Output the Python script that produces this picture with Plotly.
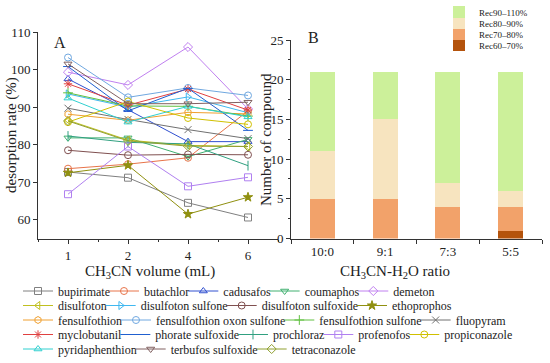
import plotly.graph_objects as go

# ---------------- data ----------------
volumes = ["1", "2", "4", "6"]

compounds = [
    "bupirimate", "butachlor", "cadusafos", "coumaphos", "demeton",
    "disulfoton", "disulfoton sulfone", "disulfoton sulfoxide", "ethoprophos",
    "fensulfothion", "fensulfothion oxon sulfone", "fensulfothion sulfone", "fluopyram",
    "myclobutanil", "phorate sulfoxide", "prochloraz", "profenofos", "propiconazole",
    "pyridaphenthion", "terbufos sulfoxide", "tetraconazole",
]

bupirimate = [72.7, 71.2, 64.5, 60.6]
butachlor = [73.6, 74.8, 76.5, 89.0]
cadusafos = [97.5, 89.3, 80.8, 80.8]
coumaphos = [81.8, 81.8, 76.8, 81.4]
demeton = [99.3, 95.9, 106.0, 89.5]
disulfoton = [86.5, 81.2, 79.8, 79.5]
disulfoton_sulfone = [93.5, 90.0, 92.7, 88.5]
disulfoton_sulfoxide = [78.5, 77.2, 77.4, 77.3]
ethoprophos = [72.5, 74.5, 61.5, 66.0]
fensulfothion = [88.1, 86.5, 88.6, 88.2]
fensulfothion_oxon_sulfone = [103.2, 92.6, 95.1, 93.1]
fensulfothion_sulfone = [93.8, 90.3, 90.2, 87.6]
fluopyram = [89.7, 86.7, 84.0, 81.6]
myclobutanil = [96.2, 90.5, 94.8, 89.2]
phorate_sulfoxide = [100.8, 89.0, 95.0, 83.8]
prochloraz = [82.3, 80.6, 80.2, 74.4]
profenofos = [66.8, 79.5, 68.9, 71.3]
propiconazole = [86.0, 91.5, 87.1, 85.4]
pyridaphenthion = [92.4, 86.0, 90.2, 87.4]
terbufos_sulfoxide = [101.5, 90.9, 90.9, 91.3]
tetraconazole = [86.3, 81.0, 79.6, 79.5]

series_values = [
    bupirimate, butachlor, cadusafos, coumaphos, demeton,
    disulfoton, disulfoton_sulfone, disulfoton_sulfoxide, ethoprophos,
    fensulfothion, fensulfothion_oxon_sulfone, fensulfothion_sulfone, fluopyram,
    myclobutanil, phorate_sulfoxide, prochloraz, profenofos, propiconazole,
    pyridaphenthion, terbufos_sulfoxide, tetraconazole,
]

ratios = ["10:0", "9:1", "7:3", "5:5"]
rec_labels = ["Rec60–70%", "Rec70–80%", "Rec80–90%", "Rec90–110%"]
rec60_70 = [0, 0, 0, 1]
rec70_80 = [5, 5, 4, 3]
rec80_90 = [6, 10, 3, 2]
rec90_110 = [10, 6, 14, 15]
rec_values = [rec60_70, rec70_80, rec80_90, rec90_110]

# ---------------- styles ----------------
colors = [
    "#808080", "#e8744a", "#3050d0", "#40b070", "#c080f0",
    "#c0c020", "#40b8f0", "#805050", "#909010",
    "#f0a030", "#70a8e0", "#60c040", "#707070",
    "#e04040", "#2060d0", "#30a080", "#b080f0", "#d0c000",
    "#30d0d0", "#806060", "#90a030",
]
symbols = [
    "square-open", "circle-open", "triangle-up-open", "triangle-down-open", "diamond-open",
    "triangle-left-open", "triangle-right-open", "circle-open", "star",
    "hexagon-open", "circle-open", "cross-thin-open", "x-thin-open",
    "asterisk-open", "line-ew-open", "line-ns-open", "square-open", "circle-open",
    "triangle-up-open", "triangle-down-open", "diamond-open",
]
rows = [0] * 5 + [1] * 4 + [2] * 4 + [3] * 5 + [4] * 3
row_centers_px = [291, 305.5, 320, 334.5, 349]
rec_colors = ["#b4530c", "#f2a26a", "#f7e4bf", "#ccf09a"]
rec_legend_y_px = [45, 34, 23, 12]

FONT = "Liberation Serif, Times New Roman, serif"
W, H = 550, 363
LEG_SIZE = 12

# approximate Times/Liberation Serif advance widths (em) for legend packing
CW = dict(a=.444, b=.5, c=.444, d=.5, e=.444, f=.333, g=.5, h=.5, i=.278, j=.278, k=.5,
          l=.278, m=.778, n=.5, o=.5, p=.5, q=.5, r=.333, s=.389, t=.278, u=.5, v=.5,
          w=.722, x=.5, y=.5, z=.444)
CW[" "] = .25


def text_w(s, size):
    return sum(CW.get(c, .5) for c in s) * size


# legend entry left positions, packed row by row (entries sit close like the reference)
leg_x = []
cursor = {}
for i, name in enumerate(compounds):
    r = rows[i]
    start = cursor.get(r, 18)
    leg_x.append(start)
    cursor[r] = start + 40 + text_w(name, LEG_SIZE) - 6


def leg_key(n):
    return "legend" if n == 0 else f"legend{n + 1}"


fig = go.Figure()

xpos = list(range(len(volumes)))
for i, name in enumerate(compounds):
    fig.add_trace(go.Scatter(
        x=xpos, y=series_values[i], name=name, mode="lines+markers",
        line=dict(color=colors[i], width=1),
        marker=dict(symbol=symbols[i], size=7, color=colors[i],
                    line=dict(color=colors[i], width=1)),
        legend=leg_key(i),
        xaxis="x", yaxis="y",
    ))

nC = len(compounds)
for j, lab in enumerate(rec_labels):
    fig.add_trace(go.Bar(
        x=ratios, y=rec_values[j], name=lab, marker=dict(color=rec_colors[j], line=dict(width=0)),
        width=0.4, xaxis="x2", yaxis="y2", legend=leg_key(nC + j),
    ))

axis_common = dict(
    showline=True, linecolor="#333", linewidth=1, ticks="outside", ticklen=4,
    tickcolor="#333", showgrid=False, zeroline=False,
    tickfont=dict(family=FONT, size=13, color="#222"),
)

y_bot = 1 - 238.5 / H

layout = dict(
    width=W, height=H, margin=dict(l=0, r=0, t=0, b=0, autoexpand=False),
    paper_bgcolor="white", plot_bgcolor="white",
    barmode="stack",
    font=dict(family=FONT, color="#222"),
    xaxis=dict(domain=[38 / W, 278 / W], range=[-0.5, 3.5], tickvals=xpos, ticktext=volumes,
               minor=dict(ticks="outside", ticklen=2, tickcolor="#333", dtick=0.5, tick0=0.5),
               anchor="y", ticklabelstandoff=1, **axis_common),
    yaxis=dict(domain=[y_bot, 1 - 32 / H], range=[55, 110], tick0=60, dtick=10,
               anchor="x", **axis_common),
    xaxis2=dict(domain=[291 / W, 542 / W], range=[-0.5, 3.5], type="category",
                tickson="boundaries", anchor="y2", ticklabelstandoff=1, **axis_common),
    yaxis2=dict(domain=[y_bot, 1 - 40 / H], range=[0, 25], tick0=0, dtick=5,
                minor=dict(ticks="outside", ticklen=2, tickcolor="#333", dtick=2.5),
                anchor="x2", **axis_common),
    showlegend=True,
)

for i in range(nC):
    layout[leg_key(i)] = dict(
        orientation="h", xref="paper", yref="paper",
        x=leg_x[i] / W, xanchor="left", y=1 - row_centers_px[rows[i]] / H, yanchor="middle",
        bgcolor="rgba(0,0,0,0)", font=dict(family=FONT, size=LEG_SIZE, color="#222"),
        itemwidth=30,
    )
for j in range(len(rec_labels)):
    layout[leg_key(nC + j)] = dict(
        orientation="h", xref="paper", yref="paper",
        x=439 / W, xanchor="left", y=1 - rec_legend_y_px[j] / H, yanchor="middle",
        bgcolor="rgba(0,0,0,0)", font=dict(family=FONT, size=9, color="#222"),
        itemwidth=30,
    )

fig.update_layout(**layout)

ann = [
    dict(text="A", x=60 / W, y=1 - 43 / H, font=dict(size=16)),
    dict(text="B", x=313 / W, y=1 - 38 / H, font=dict(size=16)),
    dict(text="CH<sub>3</sub>CN volume (mL)", x=150 / W, y=1 - 272 / H, font=dict(size=15)),
    dict(text="CH<sub>3</sub>CN-H<sub>2</sub>O ratio", x=395 / W, y=1 - 272 / H, font=dict(size=15)),
    dict(text="desorption rate (%)", x=11 / W, y=1 - 135 / H, font=dict(size=15), textangle=-90),
    dict(text="Number of compound", x=266 / W, y=1 - 140 / H, font=dict(size=15), textangle=-90),
]
for a in ann:
    a.update(xref="paper", yref="paper", showarrow=False, xanchor="center", yanchor="middle")
    a["font"].update(family=FONT, color="#222")
fig.update_layout(annotations=ann)

fig.write_html("out.html", config={"displayModeBar": False},
               post_script="document.body.style.margin='0';document.body.style.overflow='hidden';")
